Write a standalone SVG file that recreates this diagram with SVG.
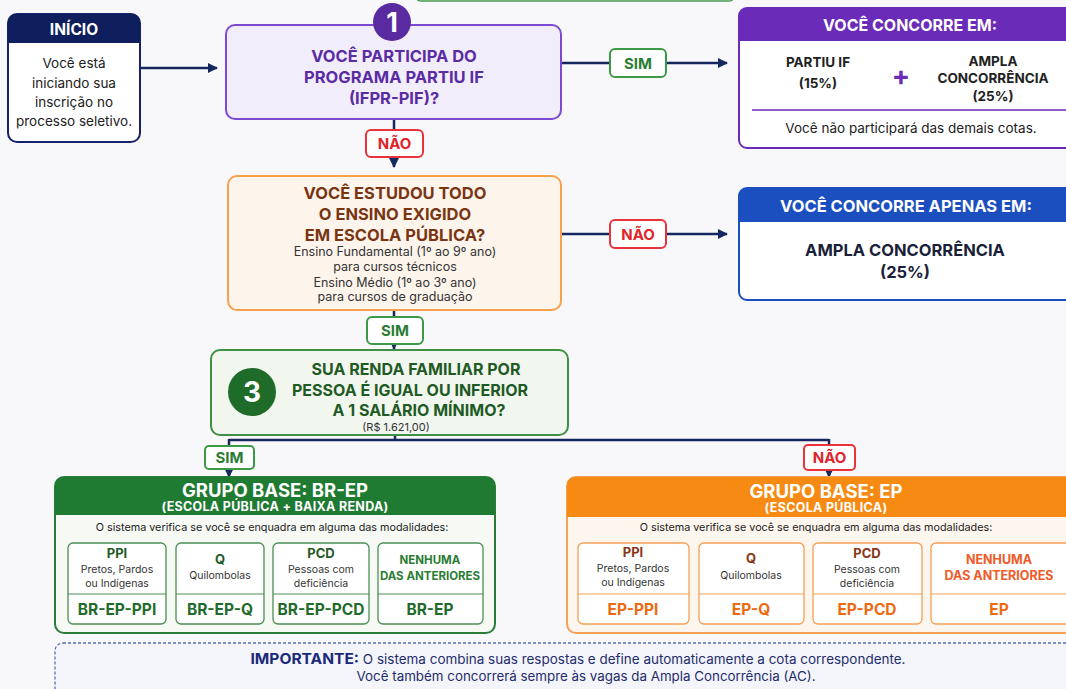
<svg xmlns="http://www.w3.org/2000/svg" width="1066" height="689" viewBox="0 0 1066 689">
<defs>
<marker id="arr" viewBox="0 0 10 10" refX="9" refY="5" markerWidth="10" markerHeight="10" markerUnits="userSpaceOnUse" orient="auto"><path d="M0,0 L10,5 L0,10 z" fill="#15275f"/></marker>
<marker id="arrs" viewBox="0 0 10 10" refX="9" refY="5" markerWidth="8" markerHeight="8" markerUnits="userSpaceOnUse" orient="auto"><path d="M0,0 L10,5 L0,10 z" fill="#15275f"/></marker>
<style>
text{font-family:Inter,Roboto,"Liberation Sans",Arial,sans-serif;text-anchor:middle}
.b{font-weight:bold}
.conn{fill:none;stroke:#15275f;stroke-width:2.5}
.lblG{fill:#fff;stroke:#3a9a45;stroke-width:2}
.lblR{fill:#fff;stroke:#e8333a;stroke-width:2}
.tG{fill:#2b7d34;font-weight:bold;font-size:15px}
.tR{fill:#e0242c;font-weight:bold;font-size:15px}
.wh{fill:#fff}
.sm{font-size:12.5px;fill:#333}
.gsub{fill:#fff;stroke:#4b8f55;stroke-width:1.3}
.osub{fill:#fff;stroke:#f5a055;stroke-width:1.3}
.gt{fill:#1f5a28}
.ot{fill:#8a3518}
.gcode{fill:#1f6b2c;font-weight:bold;font-size:15.5px}
.ocode{fill:#ec6a12;font-weight:bold;font-size:15.5px}
.mini{font-size:10.5px;fill:#333}
</style>
</defs>
<rect width="1066" height="689" fill="#f8f8fa"/>
<path d="M417,-6 V-2 Q417,1 421,1 H729 Q733,1 733,-2 V-6" fill="none" stroke="#4a9a52" stroke-width="1.5"/>

<g id="connectors">
<path class="conn" d="M140,68 H217" marker-end="url(#arr)"/>
<path class="conn" d="M561,63 H727" marker-end="url(#arr)"/>
<path class="conn" d="M394,119 V167" marker-end="url(#arr)"/>
<path class="conn" d="M561,234 H727" marker-end="url(#arr)"/>
<path class="conn" d="M394,310 V349" marker-end="url(#arrs)"/>
<path class="conn" d="M395,435 V440 M229,440 H829" />
<path class="conn" d="M229,439 V477" marker-end="url(#arrs)"/>
<path class="conn" d="M829,439 V477" marker-end="url(#arrs)"/>
<g id="lbl-sim1"><rect class="lblG" x="610" y="49" width="56" height="28" rx="5"/><text class="tG" x="638" y="69">SIM</text></g>
<g id="lbl-nao1"><rect class="lblR" x="366" y="130" width="57" height="27" rx="5"/><text class="tR" x="394.5" y="149">NÃO</text></g>
<g id="lbl-nao2"><rect class="lblR" x="610" y="220" width="56" height="28" rx="5"/><text class="tR" x="638" y="240">NÃO</text></g>
<g id="lbl-sim2"><rect class="lblG" x="367" y="317" width="56" height="27" rx="5"/><text class="tG" x="395" y="336">SIM</text></g>
<g id="lbl-sim3"><rect class="lblG" x="205" y="446" width="49" height="23" rx="4"/><text class="tG" x="229.5" y="463">SIM</text></g>
<g id="lbl-nao3"><rect class="lblR" x="804" y="445" width="51" height="25" rx="4"/><text class="tR" x="829.5" y="463">NÃO</text></g>
</g>

<g id="inicio">
<rect x="8" y="14" width="132" height="128" rx="9" fill="#fff" stroke="#14236a" stroke-width="2"/>
<path d="M8,43 V23 Q8,14 17,14 H131 Q140,14 140,23 V43 z" fill="#0f1f5e"/>
<text class="b wh" x="74" y="35" font-size="15.5">INÍCIO</text>
<text x="74" y="68" font-size="13.5" fill="#222">Você está</text>
<text x="74" y="88" font-size="13.5" fill="#222">iniciando sua</text>
<text x="74" y="107" font-size="13.5" fill="#222">inscrição no</text>
<text x="74" y="126" font-size="13.5" fill="#222">processo seletivo.</text>
</g>

<g id="q1">
<rect x="226" y="25" width="335" height="94" rx="9" fill="#f2edfb" stroke="#7c4ad2" stroke-width="2"/>
<circle cx="392" cy="22" r="19" fill="#5a2aa0"/>
<text class="b wh" x="392" y="32" font-size="27">1</text>
<text class="b" x="394" y="62" font-size="16.5" fill="#5a2ca3">VOCÊ PARTICIPA DO</text>
<text class="b" x="394" y="83" font-size="16.5" fill="#5a2ca3">PROGRAMA PARTIU IF</text>
<text class="b" x="394" y="104" font-size="16.5" fill="#5a2ca3">(IFPR-PIF)?</text>
</g>

<g id="res1">
<rect x="739" y="8" width="340" height="140" rx="8" fill="#fff" stroke="#6a2bb8" stroke-width="2"/>
<path d="M739,41 V16 Q739,8 747,8 H1079 V41 z" fill="#6a2bb8"/>
<text class="b wh" x="910" y="31" font-size="16">VOCÊ CONCORRE EM:</text>
<text class="b" x="818" y="67" font-size="13.5" fill="#222">PARTIU IF</text>
<text class="b" x="818" y="88" font-size="13.5" fill="#222">(15%)</text>
<text class="b" x="901" y="85" font-size="27" fill="#6a2bb8">+</text>
<text class="b" x="993" y="66" font-size="13.5" fill="#222">AMPLA</text>
<text class="b" x="993" y="83" font-size="13.5" fill="#222">CONCORRÊNCIA</text>
<text class="b" x="993" y="101" font-size="13.5" fill="#222">(25%)</text>
<line x1="752" y1="110" x2="1066" y2="110" stroke="#6a2bb8" stroke-width="1.5"/>
<text x="911" y="133" font-size="13.5" fill="#222">Você não participará das demais cotas.</text>
</g>

<g id="q2">
<rect x="228" y="176" width="333" height="134" rx="9" fill="#fdf5ec" stroke="#f5a24a" stroke-width="2"/>
<text class="b" x="395" y="199" font-size="16.5" fill="#7a3412">VOCÊ ESTUDOU TODO</text>
<text class="b" x="395" y="220" font-size="16.5" fill="#7a3412">O ENSINO EXIGIDO</text>
<text class="b" x="395" y="241" font-size="16.5" fill="#7a3412">EM ESCOLA PÚBLICA?</text>
<text class="sm" x="395" y="256">Ensino Fundamental (1º ao 9º ano)</text>
<text class="sm" x="395" y="271">para cursos técnicos</text>
<text class="sm" x="395" y="287">Ensino Médio (1º ao 3º ano)</text>
<text class="sm" x="395" y="301">para cursos de graduação</text>
</g>

<g id="res2">
<rect x="739" y="188" width="340" height="112" rx="8" fill="#fff" stroke="#1b4fbf" stroke-width="2"/>
<path d="M739,222 V196 Q739,188 747,188 H1079 V222 z" fill="#1b4fbf"/>
<text class="b wh" x="906" y="212" font-size="16.5">VOCÊ CONCORRE APENAS EM:</text>
<text class="b" x="905" y="256" font-size="16.5" fill="#1a1f3a">AMPLA CONCORRÊNCIA</text>
<text class="b" x="905" y="278" font-size="16.5" fill="#1a1f3a">(25%)</text>
</g>

<g id="q3">
<rect x="211" y="350" width="357" height="85" rx="9" fill="#f1f6ef" stroke="#3f8f45" stroke-width="2"/>
<circle cx="252" cy="392" r="24" fill="#1e6b2a"/>
<text class="b wh" x="252" y="402" font-size="28">3</text>
<text class="b" x="416" y="375" font-size="16" fill="#1f5a25">SUA RENDA FAMILIAR POR</text>
<text class="b" x="410" y="396" font-size="16" fill="#1f5a25">PESSOA É IGUAL OU INFERIOR</text>
<text class="b" x="419" y="416" font-size="16" fill="#1f5a25">A 1 SALÁRIO MÍNIMO?</text>
<text x="396" y="431" font-size="11" fill="#333">(R$ 1.621,00)</text>
</g>

<g id="grupo-brep">
<rect x="55" y="477" width="440" height="156" rx="9" fill="#f6f9f4" stroke="#2a7d38" stroke-width="2"/>
<path d="M55,515 V486 Q55,477 64,477 H486 Q495,477 495,486 V515 z" fill="#1f7a32"/>
<text class="b wh" x="275" y="497" font-size="18.5">GRUPO BASE: BR-EP</text>
<text class="b wh" x="275" y="511" font-size="12.5" letter-spacing="0.3">(ESCOLA PÚBLICA + BAIXA RENDA)</text>
<text x="272" y="531" font-size="10.8" fill="#222">O sistema verifica se você se enquadra em alguma das modalidades:</text>
<g id="brep-ppi"><rect class="gsub" x="68" y="543" width="98" height="81" rx="5"/><line x1="68" y1="594" x2="166" y2="594" stroke="#4b8f55" stroke-width="1.2"/>
<text class="b gt" x="117" y="558" font-size="13">PPI</text><text class="mini" x="117" y="573">Pretos, Pardos</text><text class="mini" x="117" y="587">ou Indígenas</text><text class="gcode" x="117" y="615">BR-EP-PPI</text></g>
<g id="brep-q"><rect class="gsub" x="176" y="543" width="88" height="81" rx="5"/><line x1="176" y1="594" x2="264" y2="594" stroke="#4b8f55" stroke-width="1.2"/>
<text class="b gt" x="220" y="564" font-size="13">Q</text><text class="mini" x="220" y="579">Quilombolas</text><text class="gcode" x="220" y="615">BR-EP-Q</text></g>
<g id="brep-pcd"><rect class="gsub" x="273" y="543" width="96" height="81" rx="5"/><line x1="273" y1="594" x2="369" y2="594" stroke="#4b8f55" stroke-width="1.2"/>
<text class="b gt" x="321" y="558" font-size="13">PCD</text><text class="mini" x="321" y="573">Pessoas com</text><text class="mini" x="321" y="587">deficiência</text><text class="gcode" x="321" y="615">BR-EP-PCD</text></g>
<g id="brep-nenhuma"><rect class="gsub" x="378" y="543" width="105" height="81" rx="5"/><line x1="378" y1="594" x2="483" y2="594" stroke="#4b8f55" stroke-width="1.2"/>
<text class="b" x="430" y="564" font-size="11.5" fill="#2b7d34">NENHUMA</text><text class="b" x="430" y="580" font-size="11.5" fill="#2b7d34">DAS ANTERIORES</text><text class="gcode" x="430" y="615">BR-EP</text></g>
</g>

<g id="grupo-ep">
<rect x="567" y="477" width="512" height="156" rx="9" fill="#fdf6ee" stroke="#f5a055" stroke-width="2"/>
<path d="M567,517 V486 Q567,477 576,477 H1079 V517 z" fill="#f68a12"/>
<text class="b wh" x="826" y="498" font-size="18.5">GRUPO BASE: EP</text>
<text class="b wh" x="826" y="512" font-size="12.5" letter-spacing="0.3">(ESCOLA PÚBLICA)</text>
<text x="816" y="531" font-size="10.8" fill="#222">O sistema verifica se você se enquadra em alguma das modalidades:</text>
<g id="ep-ppi"><rect class="osub" x="578" y="543" width="111" height="81" rx="5"/><line x1="578" y1="594" x2="689" y2="594" stroke="#f5a055" stroke-width="1.2"/>
<text class="b ot" x="633" y="557" font-size="13">PPI</text><text class="mini" x="633" y="572">Pretos, Pardos</text><text class="mini" x="633" y="586">ou Indígenas</text><text class="ocode" x="633" y="615">EP-PPI</text></g>
<g id="ep-q"><rect class="osub" x="699" y="543" width="105" height="81" rx="5"/><line x1="699" y1="594" x2="804" y2="594" stroke="#f5a055" stroke-width="1.2"/>
<text class="b ot" x="751" y="563" font-size="13">Q</text><text class="mini" x="751" y="579">Quilombolas</text><text class="ocode" x="751" y="615">EP-Q</text></g>
<g id="ep-pcd"><rect class="osub" x="813" y="543" width="109" height="81" rx="5"/><line x1="813" y1="594" x2="922" y2="594" stroke="#f5a055" stroke-width="1.2"/>
<text class="b ot" x="867" y="558" font-size="13">PCD</text><text class="mini" x="867" y="573">Pessoas com</text><text class="mini" x="867" y="587">deficiência</text><text class="ocode" x="867" y="615">EP-PCD</text></g>
<g id="ep-nenhuma"><rect class="osub" x="931" y="543" width="140" height="81" rx="5"/><line x1="931" y1="594" x2="1071" y2="594" stroke="#f5a055" stroke-width="1.2"/>
<text class="b" x="999" y="564" font-size="12.5" fill="#f05a28">NENHUMA</text><text class="b" x="999" y="580" font-size="12.5" fill="#f05a28">DAS ANTERIORES</text><text class="ocode" x="999" y="615">EP</text></g>
</g>

<g id="importante">
<rect x="55" y="643" width="1030" height="60" rx="8" fill="#f4f5fb" stroke="#5a6fb8" stroke-width="1.3" stroke-dasharray="3,2"/>
<text x="578" y="664" font-size="13" fill="#1f2c6b" textLength="655" lengthAdjust="spacingAndGlyphs"><tspan font-weight="bold" font-size="15" fill="#1a2a7a">IMPORTANTE:</tspan> O sistema combina suas respostas e define automaticamente a cota correspondente.</text>
<text x="586" y="681" font-size="13" fill="#1f2c6b" textLength="459" lengthAdjust="spacingAndGlyphs">Você também concorrerá sempre às vagas da Ampla Concorrência (AC).</text>
</g>
</svg>
